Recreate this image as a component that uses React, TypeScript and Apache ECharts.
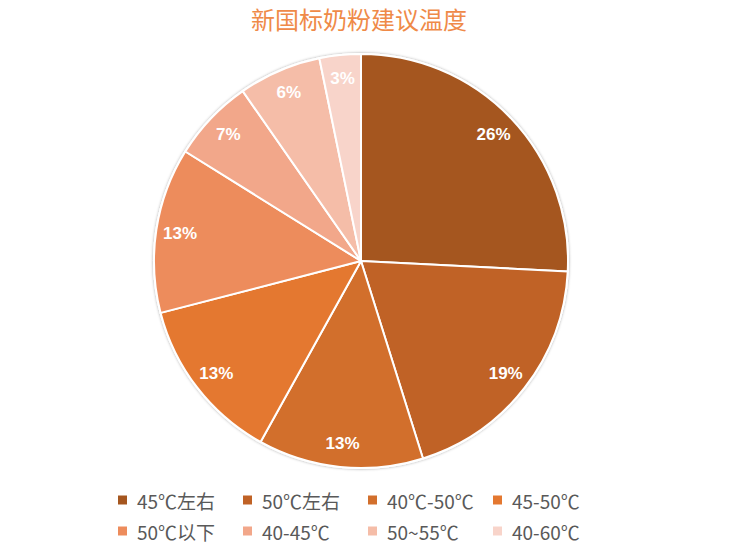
import React, { useEffect, useRef } from "react";
import * as echarts from "echarts";

const titleText = "新国标奶粉建议温度";
const categories = ["45℃左右", "50℃左右", "40℃-50℃", "45-50℃", "50℃以下", "40-45℃", "50~55℃", "40-60℃"];
const values = [8, 6, 4, 4, 4, 2, 2, 1];
const colors = ["#A5561F", "#C06226", "#D26F2C", "#E47830", "#ED8C5C", "#F2A78A", "#F5BDA8", "#F8D4CA"];

export default function App() {
  const ref = useRef<HTMLDivElement>(null);
  useEffect(() => {
    if (!ref.current) return;
    const chart = echarts.init(ref.current, undefined, { renderer: "svg" });
    const baseData = categories.map((name, i) => ({
      name,
      value: values[i],
      itemStyle: { color: colors[i] },
    }));
    const total = values.reduce((a, b) => a + b, 0);
    chart.setOption({
      animation: false,
      title: {
        text: titleText,
        left: 251,
        top: 6,
        padding: 0,
        textStyle: {
          color: "#EF8A48",
          fontSize: 24,
          fontWeight: "normal",
          fontFamily: "'Noto Sans CJK SC', sans-serif",
        },
      },
      legend: {
        data: categories,
        left: 116,
        top: 490,
        width: 510,
        padding: 0,
        icon: "rect",
        itemWidth: 11,
        itemHeight: 11,
        itemGap: 11,
        selectedMode: false,
        textStyle: {
          color: "#595959",
          fontSize: 19,
          lineHeight: 20,
          width: 93,
          padding: [0, 0, 0, 4],
          fontFamily: "'Noto Sans CJK SC', sans-serif",
        },
      },
      series: [
        {
          type: "pie",
          name: "outline",
          center: [361, 261],
          radius: 208,
          silent: true,
          z: 1,
          label: { show: false },
          labelLine: { show: false },
          itemStyle: {
            color: "#ffffff",
            borderWidth: 0,
            shadowBlur: 3,
            shadowColor: "rgba(0,0,0,0.35)",
          },
          data: [{ name: "", value: total }],
        },
        {
          type: "pie",
          center: [361, 261],
          radius: 207,
          startAngle: 90,
          clockwise: true,
          silent: true,
          z: 2,
          label: { show: false },
          labelLine: { show: false },
          itemStyle: { borderColor: "#ffffff", borderWidth: 2 },
          data: baseData,
        },
        {
          type: "pie",
          center: [361, 261],
          radius: [153, 207],
          startAngle: 90,
          clockwise: true,
          silent: true,
          z: 3,
          percentPrecision: 0,
          avoidLabelOverlap: false,
          itemStyle: { color: "rgba(0,0,0,0)", borderWidth: 0 },
          label: {
            show: true,
            position: "inside",
            formatter: "{d}%",
            color: "#ffffff",
            fontSize: 17,
            fontWeight: "bold",
            fontFamily: "'Liberation Sans Narrow', 'Liberation Sans', Arial, sans-serif",
          },
          labelLine: { show: false },
          data: categories.map((name, i) => ({ name, value: values[i] })),
        },
      ],
    });
    return () => chart.dispose();
  }, []);
  return (
    <div
      ref={ref}
      style={{ position: "fixed", left: 0, top: 0, width: 733, height: 555, background: "#ffffff" }}
    />
  );
}
